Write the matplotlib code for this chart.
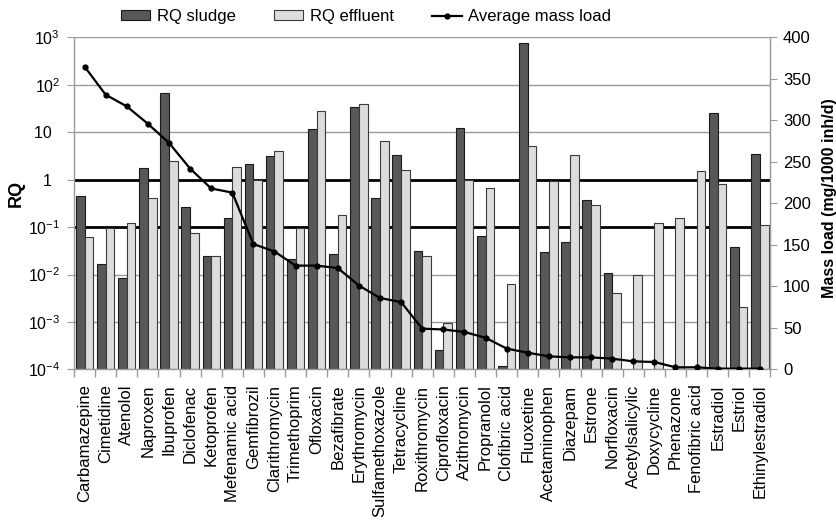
import numpy as np
import matplotlib
matplotlib.use("Agg")
import matplotlib.pyplot as plt
from matplotlib.ticker import FixedLocator, NullFormatter

plt.rcParams['font.family'] = ['Liberation Sans', 'DejaVu Sans']

compounds = ["Carbamazepine", "Cimetidine", "Atenolol", "Naproxen", "Ibuprofen",
             "Diclofenac", "Ketoprofen", "Mefenamic acid", "Gemfibrozil",
             "Clarithromycin", "Trimethoprim", "Ofloxacin", "Bezafibrate",
             "Erythromycin", "Sulfamethoxazole", "Tetracycline", "Roxithromycin",
             "Ciprofloxacin", "Azithromycin", "Propranolol", "Clofibric acid",
             "Fluoxetine", "Acetaminophen", "Diazepam", "Estrone", "Norfloxacin",
             "Acetylsalicylic", "Doxycycline", "Phenazone", "Fenofibric acid",
             "Estradiol", "Estriol", "Ethinylestradiol"]

rq_sludge = [0.46, 0.0164, 0.0085, 1.79, 67, 0.26, 0.025, 0.153, 2.11,
             3.2, 0.0215, 12, 0.027, 34, 0.41, 3.3, 0.032,
             0.00025, 12.5, 0.064, 0.000115, 780, 0.030, 0.048, 0.37, 0.0106,
             np.nan, np.nan, np.nan, np.nan, 26, 0.038, 3.5]

rq_effluent = [0.061, 0.098, 0.124, 0.41, 2.48, 0.076, 0.025, 1.85, 0.99,
               4.1, 0.098, 28, 0.18, 39.5, 6.6, 1.58, 0.024,
               0.00093, 0.99, 0.68, 0.0063, 5.2, 0.95, 3.3, 0.29, 0.0041,
               0.0099, 0.124, 0.153, 1.5, 0.82, 0.0021, 0.109]

mass_load = [365, 331, 317, 296, 273, 242, 218, 213, 151, 142, 125, 125, 122,
             101, 86, 81, 49, 48, 45, 38, 25, 20, 15.6, 14.4, 14.4, 12.8,
             9.6, 8.8, 2.4, 2.4, 0.8, 0.8, 0.8]

rq_ticks = [1e-4, 1e-3, 1e-2, 1e-1, 1, 10, 1e2, 1e3]
rq_ticklabels = [r"$\mathregular{10^{-4}}$", r"$\mathregular{10^{-3}}$",
                 r"$\mathregular{10^{-2}}$", r"$\mathregular{10^{-1}}$",
                 "1\u2002", "10\u2002", r"$\mathregular{10^{2}}$", r"$\mathregular{10^{3}}$"]
load_ticks = [0, 50, 100, 150, 200, 250, 300, 350, 400]

dark = "#585858"
light = "#dcdcdc"
grid_grey = "#9a9a9a"
rq_floor = 1e-4

fig = plt.figure(figsize=(8.36, 5.2), dpi=100)
ax = fig.add_axes([0.0885, 0.2898, 0.8331, 0.6381])

x = np.arange(len(compounds))
w = 0.41

ax.set_yscale("log")
ax.set_ylim(rq_floor, 1e3)
ax.set_xlim(-0.5, len(compounds) - 0.5)

# decade gridlines, with the thresholds RQ = 1 and RQ = 0.1 emphasised
for t in rq_ticks[1:]:
    if t in (1, 0.1):
        ax.axhline(t, color="black", lw=2.0, zorder=1)
    else:
        ax.axhline(t, color=grid_grey, lw=1.0, zorder=1)

# bars rise from the axis floor so that their tops sit at the RQ value
sludge_h = np.array(rq_sludge) - rq_floor
effluent_h = np.array(rq_effluent) - rq_floor
b1 = ax.bar(x - w / 2, sludge_h, width=w, bottom=rq_floor, color=dark,
            edgecolor="#1a1a1a", linewidth=0.8, zorder=2, label="RQ sludge")
b2 = ax.bar(x + w / 2, effluent_h, width=w, bottom=rq_floor, color=light,
            edgecolor="#3a3a3a", linewidth=0.8, zorder=2, label="RQ effluent")

ax.yaxis.set_major_locator(FixedLocator(rq_ticks))
ax.yaxis.set_minor_locator(FixedLocator([]))
ax.set_yticklabels(rq_ticklabels)
ax.tick_params(axis="y", which="major", direction="out", length=5,
               color=grid_grey, labelsize=11.5, pad=5)

ax.set_xticks(x)
ax.set_xticklabels(compounds, rotation=90, fontsize=12)
ax.xaxis.set_minor_locator(FixedLocator(np.arange(-0.5, len(compounds), 1.0)))
ax.xaxis.set_minor_formatter(NullFormatter())
ax.tick_params(axis="x", which="major", length=0, pad=11)
ax.tick_params(axis="x", which="minor", direction="out", length=6,
               color=grid_grey, width=1)

for side in ("left", "bottom", "right"):
    ax.spines[side].set_color(grid_grey)
    ax.spines[side].set_linewidth(1.0)
ax.spines["top"].set_visible(False)

ax.set_ylabel("RQ", fontsize=13, fontweight="bold")
ax.yaxis.set_label_coords(-0.071, 0.53)

ax2 = ax.twinx()
ax2.set_ylim(0, 400)
ln, = ax2.plot(x, mass_load, color="black", lw=1.6, marker="o", ms=3.5,
               zorder=5, label="Average mass load")
ax2.set_yticks(load_ticks)
ax2.tick_params(axis="y", direction="out", length=5, color=grid_grey,
                labelsize=12, pad=4)
for side in ("left", "bottom", "top"):
    ax2.spines[side].set_visible(False)
ax2.spines["right"].set_color(grid_grey)
ax2.set_ylabel("Mass load (mg/1000 inh/d)", fontsize=11.5, fontweight="bold")
ax2.yaxis.set_label_coords(1.0745, 0.515)

fig.legend(handles=[b1, b2, ln], loc="center", bbox_to_anchor=(0.438, 0.968),
           ncol=3, frameon=False, fontsize=12, handlelength=1.75,
           handleheight=0.5, handletextpad=0.4, columnspacing=2.3,
           numpoints=1)

fig.savefig("out.png", dpi=100)
